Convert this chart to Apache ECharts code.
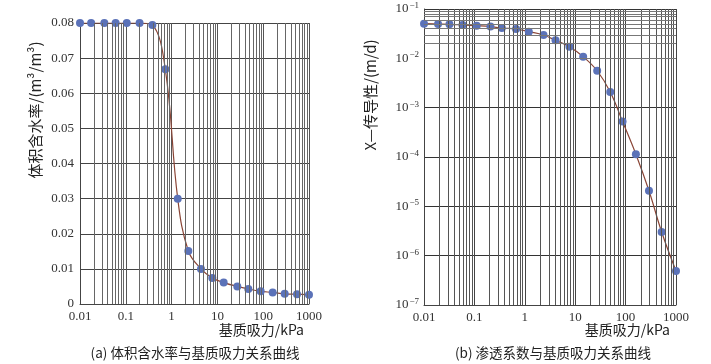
<!DOCTYPE html>
<html>
<head>
<meta charset="utf-8">
<script src="https://cdn.jsdelivr.net/npm/echarts@6/dist/echarts.min.js"></script>
<style>
html,body{margin:0;padding:0;background:#fff;}
#chart{width:711px;height:364px;}
</style>
</head>
<body>
<div id="chart"></div>
<script>
// ---- data ----
const suctionA = [0.01, 0.0175, 0.034, 0.06, 0.105, 0.2, 0.38, 0.73, 1.36, 2.32, 4.38, 7.74, 13.7, 27.2, 47.3, 88, 161, 295, 547, 1000];
const thetaA   = [0.08, 0.08, 0.08, 0.08, 0.08, 0.08, 0.0794, 0.0668, 0.030, 0.0151, 0.0100, 0.0074, 0.0061, 0.0050, 0.0043, 0.0036, 0.0033, 0.0029, 0.0028, 0.0026];

const suctionB = [0.01, 0.019, 0.032, 0.058, 0.111, 0.208, 0.35, 0.67, 1.2, 2.35, 4.07, 7.7, 14.4, 27.3, 49.6, 87, 160, 291, 519, 1000];
const condB    = [0.0504, 0.0497, 0.049, 0.0475, 0.0459, 0.0440, 0.0412, 0.0393, 0.0347, 0.0297, 0.0232, 0.0172, 0.0108, 0.0056, 0.00207, 0.000525, 0.000114, 2.07e-5, 3.02e-6, 4.9e-7];

const xTickLabels  = ['0.01', '0.1', '1', '10', '100', '1000'];
const yTickLabelsA = ['0', '0.01', '0.02', '0.03', '0.04', '0.05', '0.06', '0.07', '0.08'];
const yExponentsB  = [-7, -6, -5, -4, -3, -2, -1];

const xNameText = '基质吸力/kPa';
const yNameA = '体积含水率/(m³/m³)';
const yNameB = 'X—传导性/(m/d)';
const captionA = '(a) 体积含水率与基质吸力关系曲线';
const captionB = '(b) 渗透系数与基质吸力关系曲线';

// ---- helpers ----
const serif = 'Liberation Serif';
const cjk = 'Noto Sans CJK SC';
function pairs(xs, ys) { return xs.map((x, i) => [x, ys[i]]); }
function logMinorValues(minExp, maxExp) {
  const out = [];
  for (let e = minExp; e < maxExp; e++) {
    for (let m = 2; m <= 9; m++) out.push(m * Math.pow(10, e));
  }
  return out;
}
const xMinor = logMinorValues(-2, 3).map(v => ({ xAxis: v }));
const yMinorB = logMinorValues(-7, -1).map(v => ({ yAxis: v }));

const chart = echarts.init(document.getElementById('chart'), null, { renderer: 'canvas' });

const axisLabelX = {
  fontFamily: serif, fontSize: 13, color: '#333', margin: 6,
  formatter: v => xTickLabels[Math.round(Math.log10(v)) + 2]
};

const option = {
  animation: false,
  backgroundColor: '#fff',
  grid: [
    { left: 80, top: 23, width: 229, height: 281 },
    { left: 424, top: 9, width: 252, height: 296 }
  ],
  xAxis: [
    {
      gridIndex: 0, type: 'log', logBase: 10, min: 0.01, max: 1000,
      axisLine: { lineStyle: { color: '#444', width: 1 } },
      axisTick: { show: false },
      axisLabel: axisLabelX,
      splitLine: { show: true, lineStyle: { color: '#555', width: 1 } }
    },
    {
      gridIndex: 1, type: 'log', logBase: 10, min: 0.01, max: 1000,
      axisLine: { lineStyle: { color: '#444', width: 1 } },
      axisTick: { show: false },
      axisLabel: axisLabelX,
      splitLine: { show: true, lineStyle: { color: '#444', width: 1 } }
    }
  ],
  yAxis: [
    {
      gridIndex: 0, type: 'value', min: 0, max: 0.08, interval: 0.01,
      axisLine: { show: true, lineStyle: { color: '#444', width: 1 } },
      axisTick: { show: false },
      axisLabel: {
        fontFamily: serif, fontSize: 13, color: '#333', margin: 6,
        formatter: v => yTickLabelsA[Math.round(v / 0.01)]
      },
      splitLine: { show: true, lineStyle: { color: '#444', width: 1 } }
    },
    {
      gridIndex: 1, type: 'log', logBase: 10, min: 1e-7, max: 0.1,
      axisLine: { show: true, lineStyle: { color: '#444', width: 1 } },
      axisTick: { show: false },
      axisLabel: {
        margin: 5,
        formatter: v => {
          const e = Math.round(Math.log10(v));
          const k = yExponentsB.indexOf(e);
          if (k < 0) return '';
          return '{b|10}{s|−' + (-yExponentsB[k]) + '}';
        },
        rich: {
          b: { fontFamily: serif, fontSize: 13, color: '#333' },
          s: { fontFamily: serif, fontSize: 9, color: '#333', verticalAlign: 'top', padding: [0, 0, 7, 1] }
        }
      },
      splitLine: { show: true, lineStyle: { color: '#333', width: 1 } }
    }
  ],
  series: [
    {
      type: 'line', xAxisIndex: 0, yAxisIndex: 0, data: [], silent: true, z: 1,
      markLine: {
        silent: true, symbol: ['none', 'none'], label: { show: false },
        lineStyle: { color: '#666', width: 1, type: 'solid' },
        emphasis: { disabled: true },
        data: xMinor
      }
    },
    {
      type: 'line', xAxisIndex: 1, yAxisIndex: 1, data: [], silent: true, z: 1,
      markLine: {
        silent: true, symbol: ['none', 'none'], label: { show: false },
        lineStyle: { color: '#555', width: 1, type: 'solid' },
        emphasis: { disabled: true },
        data: xMinor
      }
    },
    {
      type: 'line', xAxisIndex: 1, yAxisIndex: 1, data: [], silent: true, z: 1,
      markLine: {
        silent: true, symbol: ['none', 'none'], label: { show: false },
        lineStyle: { color: '#777', width: 1, type: 'solid' },
        emphasis: { disabled: true },
        data: yMinorB
      }
    },
    {
      name: 'curveA', type: 'line', xAxisIndex: 0, yAxisIndex: 0,
      data: pairs(suctionA, thetaA), smooth: 0.4,
      showSymbol: false, z: 3,
      lineStyle: { color: '#8a4536', width: 1.2 }
    },
    {
      name: 'pointsA', type: 'scatter', xAxisIndex: 0, yAxisIndex: 0,
      data: pairs(suctionA, thetaA), symbolSize: 8, z: 4,
      itemStyle: { color: '#5b72b8', opacity: 1 }
    },
    {
      name: 'curveB', type: 'line', xAxisIndex: 1, yAxisIndex: 1,
      data: pairs(suctionB, condB), smooth: 0.4,
      showSymbol: false, z: 3,
      lineStyle: { color: '#8a4536', width: 1.2 }
    },
    {
      name: 'pointsB', type: 'scatter', xAxisIndex: 1, yAxisIndex: 1,
      data: pairs(suctionB, condB), symbolSize: 8, z: 4,
      itemStyle: { color: '#5b72b8', opacity: 1 }
    }
  ],
  graphic: [
    { type: 'text', x: 35, y: 110, rotation: Math.PI / 2,
      style: { text: yNameA, font: '15px "' + cjk + '"', fill: '#222', align: 'center', verticalAlign: 'middle' } },
    { type: 'text', x: 370, y: 95, rotation: Math.PI / 2,
      style: { text: yNameB, font: '15px "' + cjk + '"', fill: '#222', align: 'center', verticalAlign: 'middle' } },
    { type: 'text', x: 304, y: 330,
      style: { text: xNameText, font: '14px "' + cjk + '"', fill: '#222', align: 'right', verticalAlign: 'middle' } },
    { type: 'text', x: 670, y: 330,
      style: { text: xNameText, font: '14px "' + cjk + '"', fill: '#222', align: 'right', verticalAlign: 'middle' } },
    { type: 'text', x: 195, y: 353,
      style: { text: captionA, font: '13.5px "' + cjk + '"', fill: '#222', align: 'center', verticalAlign: 'middle' } },
    { type: 'text', x: 553, y: 353,
      style: { text: captionB, font: '13.5px "' + cjk + '"', fill: '#222', align: 'center', verticalAlign: 'middle' } }
  ]
};
chart.setOption(option);
</script>
</body>
</html>
